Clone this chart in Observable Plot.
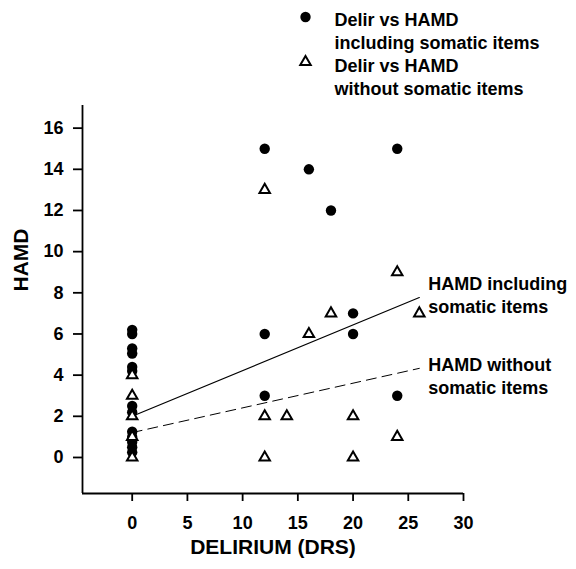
<!DOCTYPE html>
<html>
<head>
<meta charset="utf-8">
<script src="https://cdn.jsdelivr.net/npm/d3@7"></script>
<script src="https://cdn.jsdelivr.net/npm/@observablehq/plot@0.6"></script>
<style>
  html, body { margin: 0; padding: 0; background: #fff; }
  #chart { width: 576px; height: 569px; }
</style>
</head>
<body>
<div id="chart"></div>
<script>
// ---- data ----
const inclDRS  = [0,0,0,0,0,0,0,0,0,0,0,0,0, 12,12,12,16,18,20,20,24,24];
const inclHAMD = [6.2,6.0,5.3,5.05,4.4,4.2,2.5,2.2,1.25,1.0,0.75,0.5,0.25, 15,6,3,14,12,7,6,15,3];
const withoutDRS  = [0,0,0,0,0, 12,12,12,14,16,18,20,20,24,24,26];
const withoutHAMD = [4,3,2,1,0, 13,2,0,2,6,7,2,0,9,1,7];

const fitLabels = ["HAMD including\nsomatic items", "HAMD without\nsomatic items"];
const fitIntercepts = [2.0, 1.21];
const fitSlopes = [0.222, 0.12];
const fitRange = [0, 26];

const legendLabels = ["Delir vs HAMD\nincluding somatic items", "Delir vs HAMD\nwithout somatic items"];

const xTicks = [0, 5, 10, 15, 20, 25, 30];
const yTicks = [0, 2, 4, 6, 8, 10, 12, 14, 16];
const xDomain = [-4.5, 30];
const yDomain = [-1.75, 17.1];
const xLabel = "DELIRIUM (DRS)";
const yLabel = "HAMD";

// ---- derived tables ----
const incl = inclDRS.map((d, i) => ({drs: d, hamd: inclHAMD[i]}));
const without = withoutDRS.map((d, i) => ({drs: d, hamd: withoutHAMD[i]}));
const fitLine = k => fitRange.map(x => ({drs: x, hamd: fitIntercepts[k] + fitSlopes[k] * x}));
const fitEnd = k => ({drs: fitRange[1], hamd: fitIntercepts[k] + fitSlopes[k] * fitRange[1], label: fitLabels[k]});

const FONT = "'Liberation Sans', Arial, Helvetica, sans-serif";

const chart = Plot.plot({
  width: 576,
  height: 569,
  marginLeft: 82,
  marginRight: 113,
  marginTop: 105,
  marginBottom: 76,
  x: {domain: xDomain},
  y: {domain: yDomain},
  style: {fontFamily: FONT, fontWeight: "bold", fontSize: "18px", color: "black", background: "white", overflow: "visible"},
  marks: [
    Plot.axisX(xTicks, {tickSize: 8, tickPadding: 15, label: null, fontSize: 18, fontWeight: "bold", strokeWidth: 1.8}),
    Plot.axisY(yTicks, {tickSize: 9, tickPadding: 10, label: null, fontSize: 18, fontWeight: "bold", strokeWidth: 1.8}),
    Plot.ruleX([xDomain[0]], {stroke: "black", strokeWidth: 1.8}),
    Plot.ruleY([yDomain[0]], {stroke: "black", strokeWidth: 1.8}),
    Plot.text([xLabel], {frameAnchor: "bottom", dy: 60, fontSize: 21, fontWeight: "bold"}),
    Plot.text([yLabel], {frameAnchor: "left", dx: -61, dy: -8, rotate: -90, fontSize: 21, fontWeight: "bold"}),
    // regression lines
    Plot.line(fitLine(0), {x: "drs", y: "hamd", stroke: "black", strokeWidth: 1.2}),
    Plot.line(fitLine(1), {x: "drs", y: "hamd", stroke: "black", strokeWidth: 1, strokeDasharray: "10,6"}),
    Plot.text([fitEnd(0)], {x: "drs", y: "hamd", text: "label", textAnchor: "start", dx: 9, dy: -3, lineHeight: 1.25, fontSize: 18, fontWeight: "bold"}),
    Plot.text([fitEnd(1)], {x: "drs", y: "hamd", text: "label", textAnchor: "start", dx: 9, dy: 7, lineHeight: 1.25, fontSize: 18, fontWeight: "bold"}),
    // points
    Plot.dot(incl, {x: "drs", y: "hamd", r: 5.2, fill: "black", stroke: "none"}),
    Plot.dot(without, {x: "drs", y: "hamd", symbol: "triangle", r: 3.9, fill: "white", stroke: "black", strokeWidth: 2}),
    // legend
    Plot.dot([legendLabels[0]], {frameAnchor: "top-left", dx: 223, dy: -88.5, r: 5.2, fill: "black", stroke: "none"}),
    Plot.dot([legendLabels[1]], {frameAnchor: "top-left", dx: 223, dy: -43.5, symbol: "triangle", r: 3.9, fill: "white", stroke: "black", strokeWidth: 2}),
    Plot.text([legendLabels[0]], {frameAnchor: "top-left", dx: 252, dy: -96, textAnchor: "start", lineAnchor: "top", lineHeight: 1.28, fontSize: 18, fontWeight: "bold"}),
    Plot.text([legendLabels[1]], {frameAnchor: "top-left", dx: 252, dy: -49.5, textAnchor: "start", lineAnchor: "top", lineHeight: 1.28, fontSize: 18, fontWeight: "bold"})
  ]
});
document.getElementById("chart").appendChild(chart);
</script>
</body>
</html>
